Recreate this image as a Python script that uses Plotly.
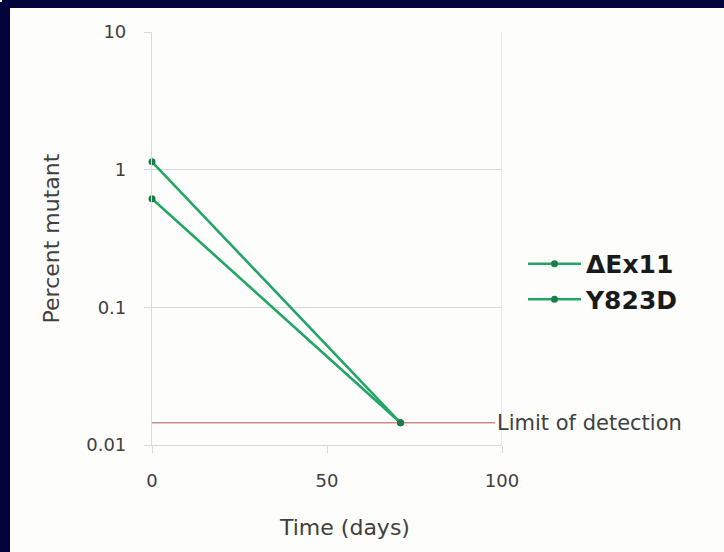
import math
import plotly.graph_objects as go

# Data
time_days = [0, 71]
dex11 = [1.14, 0.0145]
y823d = [0.615, 0.0145]
series_names = ["ΔEx11", "Y823D"]
limit_of_detection = 0.0145
lod_x = [0, 98]
x_ticks = [0, 50, 100]
y_ticks = [0.01, 0.1, 1, 10]
y_tick_labels = ["0.01", "0.1", "1", "10"]

GREEN = "#23a566"
MARKER = "#1c7a4b"
LOD = "#c98d88"
GRID = "#d9d9d9"
NAVY = "#04043c"
PANEL = "#fdfdfb"
TXT = "#404040"
FONT = "DejaVu Sans, sans-serif"

W, H = 724, 552
ML, MR, MT, MB = 152, 222, 32, 107
PW, PH = W - ML - MR, H - MT - MB

fig = go.Figure()

fig.add_trace(go.Scatter(
    x=lod_x, y=[limit_of_detection] * len(lod_x), mode="lines",
    line=dict(color=LOD, width=1.6), showlegend=False, hoverinfo="skip"))

for name, vals in zip(series_names, [dex11, y823d]):
    fig.add_trace(go.Scatter(
        x=time_days, y=vals, mode="lines+markers", name=name,
        line=dict(color=GREEN, width=2.6),
        marker=dict(color=MARKER, size=7),
        cliponaxis=False))

fig.add_annotation(
    x=lod_x[-1], y=math.log10(limit_of_detection), yref="y", xref="x",
    text="Limit of detection", showarrow=False, xanchor="left", yanchor="middle",
    xshift=0, font=dict(family=FONT, size=21, color=TXT))

fig.add_annotation(
    x=(344 - ML) / PW, y=-(527 - (MT + PH)) / PH, xref="paper", yref="paper",
    text="Time (days)", showarrow=False, xanchor="center", yanchor="middle",
    font=dict(family=FONT, size=22, color=TXT))

# navy frame strips (left and top), corner pixel left in panel colour
px = lambda p: (p - ML) / PW
py = lambda p: (MT + PH - p) / PH
fig.add_shape(type="rect", xref="paper", yref="paper",
              x0=px(0), x1=px(10), y0=py(H), y1=py(2),
              fillcolor=NAVY, line=dict(width=0), layer="below")
fig.add_shape(type="rect", xref="paper", yref="paper",
              x0=px(2), x1=px(W), y0=py(8), y1=py(0),
              fillcolor=NAVY, line=dict(width=0), layer="below")

fig.add_shape(type="line", xref="x", yref="paper", x0=100, x1=100, y0=0, y1=1,
              line=dict(color=GRID, width=1.2), layer="below")

fig.update_layout(
    width=W, height=H,
    margin=dict(l=ML, r=MR, t=MT, b=MB),
    paper_bgcolor=PANEL,
    plot_bgcolor="rgba(0,0,0,0)",
    font=dict(family=FONT, color=TXT),
    showlegend=True,
    legend=dict(x=1.06, y=0.396, xanchor="left", yanchor="middle",
                bgcolor="rgba(0,0,0,0)", itemwidth=53,
                font=dict(family=FONT, size=25, color="#1a1a1a", weight="bold"),
                tracegroupgap=0),
    xaxis=dict(range=[0, 100], tickvals=x_ticks, ticks="outside", ticklen=7,
               tickcolor=GRID, showline=True, linecolor=GRID, linewidth=1.2,
               showgrid=False, zeroline=False, ticklabelstandoff=12,
               tickfont=dict(size=18, color=TXT)),
    yaxis=dict(type="log", range=[-2, 1], tickvals=y_ticks, ticktext=y_tick_labels,
               ticks="outside", ticklen=7, tickcolor=GRID,
               showline=True, linecolor=GRID, linewidth=1.2,
               showgrid=True, gridcolor=GRID, gridwidth=1.2, zeroline=False,
               ticklabelstandoff=14,
               tickfont=dict(size=18, color=TXT),
               title=dict(text="Percent mutant", font=dict(size=22, color=TXT), standoff=20)),
)

fig.write_html("out.html")
